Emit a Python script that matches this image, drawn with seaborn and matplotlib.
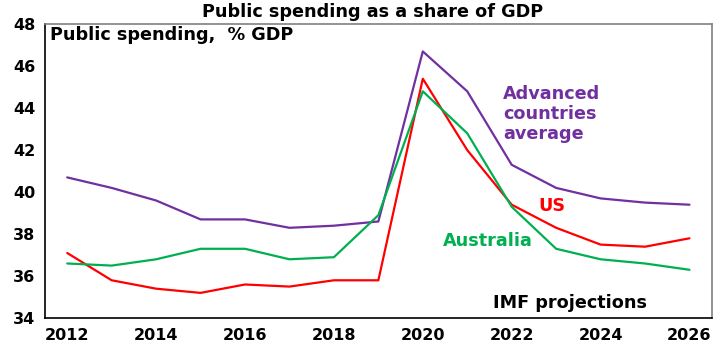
import matplotlib
matplotlib.use('Agg')
import matplotlib.pyplot as plt
import seaborn as sns
import pandas as pd
import numpy as np

####### Data #######
years = list(range(2012, 2027))
advanced = [40.7, 40.2, 39.6, 38.7, 38.7, 38.3, 38.4, 38.6, 46.7, 44.8, 41.3, 40.2, 39.7, 39.5, 39.4]
us = [37.1, 35.8, 35.4, 35.2, 35.6, 35.5, 35.8, 35.8, 45.4, 42.0, 39.4, 38.3, 37.5, 37.4, 37.8]
australia = [36.6, 36.5, 36.8, 37.3, 37.3, 36.8, 36.9, 38.9, 44.8, 42.8, 39.3, 37.3, 36.8, 36.6, 36.3]
year_labels = [str(y) for y in range(2012, 2027, 2)]

colors = {'Advanced': '#7030A0', 'US': '#FF0000', 'Australia': '#00B050'}

df = pd.DataFrame({'Year': years, 'Advanced': advanced, 'US': us, 'Australia': australia})
long_df = df.melt(id_vars='Year', var_name='Series', value_name='Value')

sns.set_style('white')
plt.rcParams['font.family'] = ['DejaVu Sans']
plt.rcParams['font.weight'] = 'bold'
plt.rcParams['text.color'] = 'black'
plt.rcParams['xtick.color'] = 'black'
plt.rcParams['ytick.color'] = 'black'
fs = 11.5   # tick labels
fs_t = 12.7  # titles / annotations

fig = plt.figure(figsize=(7.2, 3.55), dpi=100)
ax = fig.add_axes([0.0625, 0.104, 0.926, 0.828])

sns.lineplot(data=long_df, x='Year', y='Value', hue='Series', palette=colors,
             linewidth=1.6, legend=False, ax=ax)

ax.set_xlim(2011.5, 2026.5)
ax.set_ylim(34, 48)
ax.set_yticks(range(34, 49, 2))
ax.set_yticklabels([str(v) for v in range(34, 49, 2)], fontsize=fs, fontweight='bold')
ax.set_xticks(range(2012, 2027, 2))
ax.set_xticklabels(year_labels, fontsize=fs, fontweight='bold')
ax.set_xticks(np.arange(2011.5, 2027, 1), minor=True)
ax.tick_params(axis='x', which='major', length=0, pad=7)
ax.tick_params(axis='x', which='minor', length=5, width=1, direction='out', color='black')
ax.tick_params(axis='y', length=5, width=1, direction='out', color='black', pad=2)
ax.set_xlabel('')
ax.set_ylabel('')

for side in ['left', 'bottom']:
    ax.spines[side].set_color('black')
    ax.spines[side].set_linewidth(1.2)
for side in ['top', 'right']:
    ax.spines[side].set_color('#808080')
    ax.spines[side].set_linewidth(1.2)

fig.text(0.517, 0.966, 'Public spending as a share of GDP', ha='center', va='center',
         fontsize=fs_t, fontweight='bold')
ax.text(0.007, 0.963, 'Public spending,  % GDP', transform=ax.transAxes, ha='left', va='center',
        fontsize=fs_t, fontweight='bold')
ax.text(2021.8, 43.72, 'Advanced\ncountries\naverage', color=colors['Advanced'],
        fontsize=fs_t, fontweight='bold', ha='left', va='center', linespacing=1.13)
ax.text(2022.6, 39.35, 'US', color=colors['US'], fontsize=fs_t, fontweight='bold',
        ha='left', va='center')
ax.text(2020.45, 37.68, 'Australia', color=colors['Australia'], fontsize=fs_t,
        fontweight='bold', ha='left', va='center')
ax.text(2021.57, 34.71, 'IMF projections', color='black', fontsize=fs_t,
        fontweight='bold', ha='left', va='center')

fig.savefig('out.png', dpi=100)
